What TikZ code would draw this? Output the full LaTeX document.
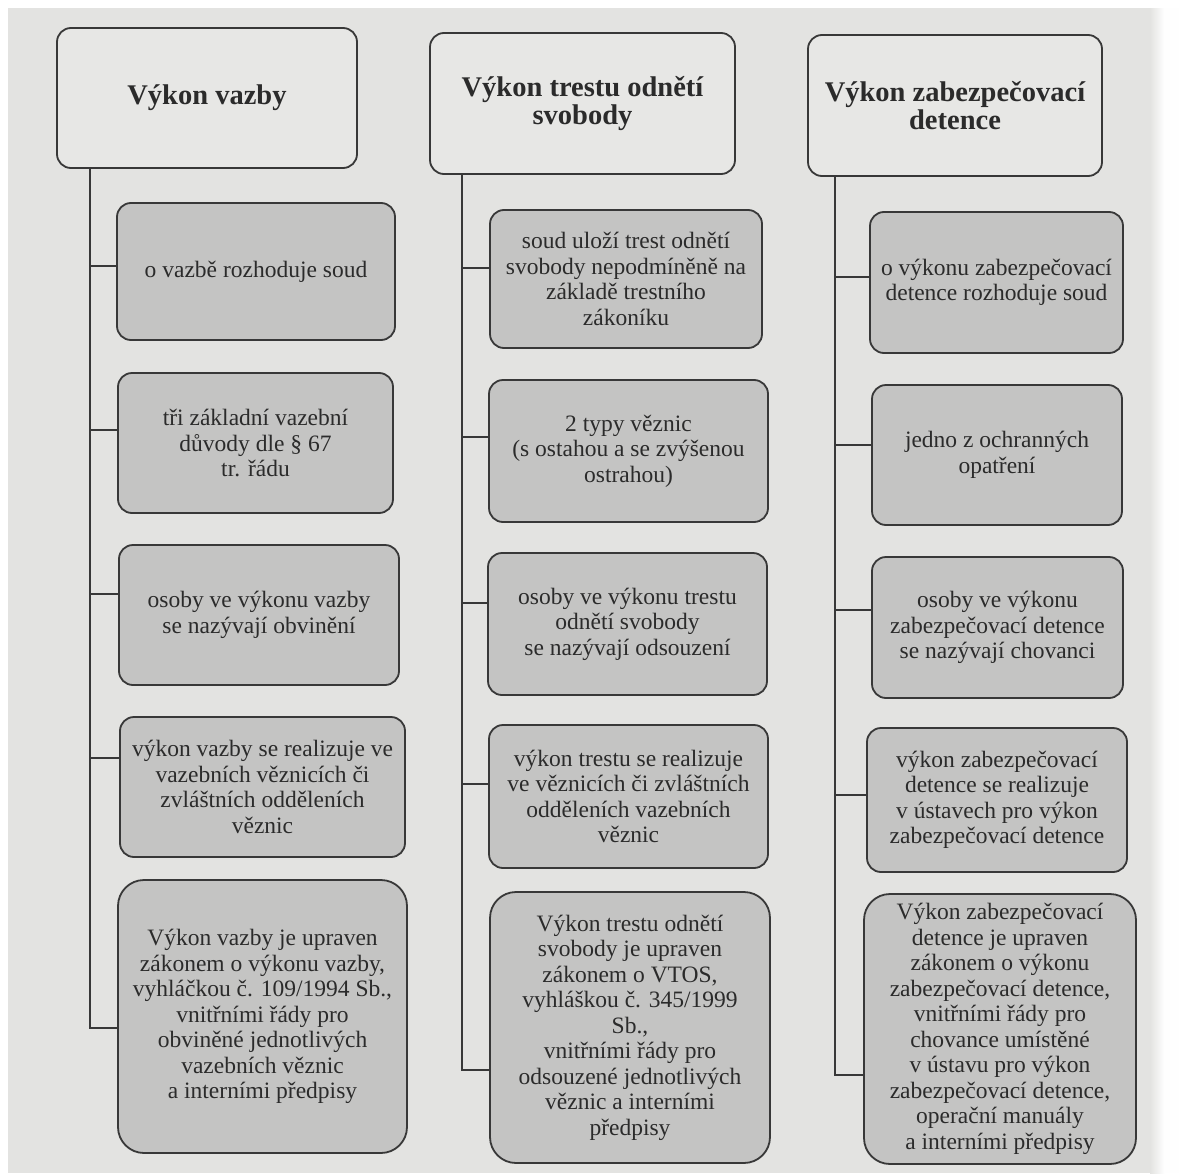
\documentclass[tikz,border=0pt]{standalone}
\usepackage{fontspec}
\setmainfont{Liberation Serif}
\usetikzlibrary{calc}
\definecolor{pagebg}{HTML}{E3E3E1}
\definecolor{boxfill}{HTML}{C4C4C3}
\definecolor{hdrfill}{HTML}{E7E7E5}
\definecolor{ink}{HTML}{383838}
\definecolor{txt}{HTML}{2B2B2B}
\begin{document}
\begin{tikzpicture}[x=1pt,y=-1pt,
  hdr/.style={draw=ink, line width=1.8pt, fill=hdrfill, rounded corners=14pt, align=center, inner sep=0pt,
    font=\fontsize{28.5}{28}\selectfont\bfseries, text=txt},
  item/.style={draw=ink, line width=1.8pt, fill=boxfill, rounded corners=14pt, align=center, inner sep=0pt,
    font=\fontsize{23.5}{25.5}\selectfont, text=txt},
  lastitem/.style={item, rounded corners=26pt},
  link/.style={draw=ink, line width=1.8pt}]
\useasboundingbox (0,0) rectangle (1179,1175);
\fill[white] (0,0) rectangle (1179,1175);
\fill[pagebg] (8,8) rectangle (1150,1173);
\shade[left color=pagebg, right color=white!96!pagebg] (1150,8) rectangle (1164,1173);
\fill[white!96!pagebg] (1164,8) rectangle (1179,1173);

% trunk coordinates
\coordinate (t1) at (90,0);
\coordinate (t2) at (462,0);
\coordinate (t3) at (835,0);

% column 1
\node[hdr, minimum width=300pt, minimum height=140pt] (h1) at (207,98) {Výkon vazby};
\node[item, minimum width=278pt, minimum height=137pt] (b11) at (256,271.5) {o vazbě rozhoduje soud};
\node[item, minimum width=275pt, minimum height=140pt] (b12) at (255.5,443) {tři základní vazební\\důvody dle § 67\\tr. řádu};
\node[item, minimum width=280pt, minimum height=140pt] (b13) at (259,615) {osoby ve výkonu vazby\\se nazývají obvinění};
\node[item, minimum width=285pt, minimum height=140pt] (b14) at (262.5,787) {výkon vazby se realizuje ve\\vazebních věznicích či\\zvláštních odděleních\\věznic};
\node[lastitem, minimum width=289pt, minimum height=273pt] (b15) at (262.5,1016.5) {Výkon vazby je upraven\\zákonem o výkonu vazby,\\vyhláčkou č. 109/1994 Sb.,\\vnitřními řády pro\\obviněné jednotlivých\\vazebních věznic\\a interními předpisy};

% column 2
\node[hdr, minimum width=305pt, minimum height=141pt] (h2) at (582.5,103.5) {Výkon trestu odnětí\\svobody};
\node[item, minimum width=272pt, minimum height=138pt] (b21) at (626,279) {soud uloží trest odnětí\\svobody nepodmíněně na\\základě trestního\\zákoníku};
\node[item, minimum width=279pt, minimum height=142pt] (b22) at (628.5,451) {2 typy věznic\\(s ostahou a se zvýšenou\\ostrahou)};
\node[item, minimum width=279pt, minimum height=142pt] (b23) at (627.5,624) {osoby ve výkonu trestu\\odnětí svobody\\se nazývají odsouzení};
\node[item, minimum width=279pt, minimum height=143pt] (b24) at (628.5,796.5) {výkon trestu se realizuje\\ve věznicích či zvláštních\\odděleních vazebních\\věznic};
\node[lastitem, minimum width=280pt, minimum height=271pt] (b25) at (630,1027.5) {Výkon trestu odnětí\\svobody je upraven\\zákonem o VTOS,\\vyhláškou č. 345/1999\\Sb.,\\vnitřními řády pro\\odsouzené jednotlivých\\věznic a interními\\předpisy};

% column 3
\node[hdr, minimum width=294pt, minimum height=141pt] (h3) at (955,105.5) {Výkon zabezpečovací\\detence};
\node[item, minimum width=253pt, minimum height=141pt] (b31) at (996.5,282.5) {o výkonu zabezpečovací\\detence rozhoduje soud};
\node[item, minimum width=250pt, minimum height=140pt] (b32) at (997,455) {jedno z ochranných\\opatření};
\node[item, minimum width=251pt, minimum height=141pt] (b33) at (997.5,627.5) {osoby ve výkonu\\zabezpečovací detence\\se nazývají chovanci};
\node[item, minimum width=260pt, minimum height=144pt] (b34) at (997,800) {výkon zabezpečovací\\detence se realizuje\\v ústavech pro výkon\\zabezpečovací detence};
\node[lastitem, minimum width=272pt, minimum height=270pt] (b35) at (1000,1029) {Výkon zabezpečovací\\detence je upraven\\zákonem o výkonu\\zabezpečovací detence,\\vnitřními řády pro\\chovance umístěné\\v ústavu pro výkon\\zabezpečovací detence,\\operační manuály\\a interními předpisy};

% connectors column 1
\draw[link] (h1.south -| t1) |- ([yshift=-11.5pt]b15.west);
\draw[link] ([yshift=5.5pt]b11.west) -- ([yshift=5.5pt]b11.west -| t1);
\draw[link] ([yshift=13pt]b12.west) -- ([yshift=13pt]b12.west -| t1);
\draw[link] ([yshift=21pt]b13.west) -- ([yshift=21pt]b13.west -| t1);
\draw[link] ([yshift=29pt]b14.west) -- ([yshift=29pt]b14.west -| t1);

% connectors column 2
\draw[link] (h2.south -| t2) |- ([yshift=-42.5pt]b25.west);
\draw[link] ([yshift=11pt]b21.west) -- ([yshift=11pt]b21.west -| t2);
\draw[link] ([yshift=14pt]b22.west) -- ([yshift=14pt]b22.west -| t2);
\draw[link] ([yshift=21pt]b23.west) -- ([yshift=21pt]b23.west -| t2);
\draw[link] ([yshift=12.5pt]b24.west) -- ([yshift=12.5pt]b24.west -| t2);

% connectors column 3
\draw[link] (h3.south -| t3) |- ([yshift=-46pt]b35.west);
\draw[link] ([yshift=5.5pt]b31.west) -- ([yshift=5.5pt]b31.west -| t3);
\draw[link] ([yshift=10pt]b32.west) -- ([yshift=10pt]b32.west -| t3);
\draw[link] ([yshift=17.5pt]b33.west) -- ([yshift=17.5pt]b33.west -| t3);
\draw[link] ([yshift=5pt]b34.west) -- ([yshift=5pt]b34.west -| t3);
\end{tikzpicture}
\end{document}
